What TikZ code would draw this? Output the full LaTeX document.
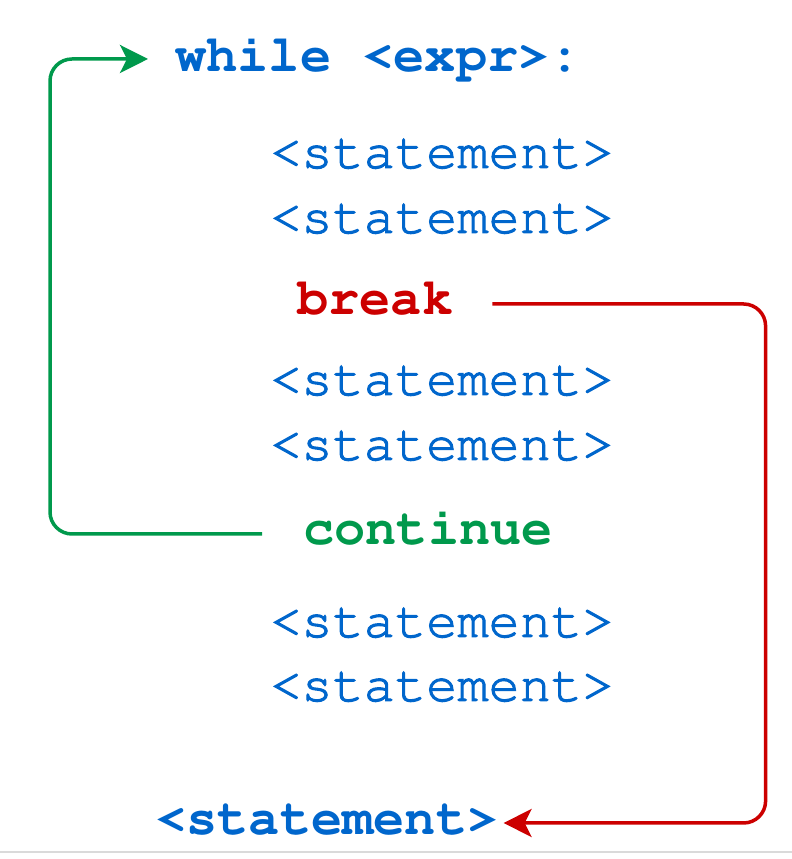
\documentclass[tikz,border=0pt]{standalone}
\usepackage[T1]{fontenc}
\renewcommand{\ttdefault}{pcr}
\usepackage{tikz}
\usetikzlibrary{arrows.meta}
\definecolor{CodeBlue}{RGB}{0,102,204}
\definecolor{BreakRed}{RGB}{204,0,0}
\definecolor{ContGreen}{RGB}{0,153,76}
\definecolor{Edge}{RGB}{218,218,218}
% slightly heavier strokes for the thin Courier
\newcommand{\thicktext}[1]{\special{pdf:literal direct 2 Tr 1 w}#1\special{pdf:literal direct 0 Tr}}
\tikzset{
  code/.style={anchor=base west,inner sep=0pt,text=CodeBlue,font=\fontsize{52}{60}\selectfont\ttfamily},
  keyword/.style={code,font=\fontsize{52}{60}\selectfont\ttfamily\bfseries},
  breakflow/.style={-{Stealth[length=28pt,width=28pt,inset=7pt]},line width=3.5pt,draw=BreakRed,rounded corners=22pt},
  contflow/.style={-{Stealth[length=28pt,width=28pt,inset=7pt]},line width=3.5pt,draw=ContGreen,rounded corners=22pt}
}
\begin{document}
\begin{tikzpicture}[x=1pt,y=1pt]
\useasboundingbox (0,0) rectangle (792,859);
\draw[Edge,line width=2pt] (0,7) -- (792,7);
\node[keyword] (loop) at (175,787) {while <expr>:};
\node[code] (st1) at (270,691) {\thicktext{<statement>}};
\node[code] (st2) at (270,626) {\thicktext{<statement>}};
\node[keyword,text=BreakRed] (brk) at (297,544) {break};
\node[code] (st3) at (270,464) {\thicktext{<statement>}};
\node[code] (st4) at (270,399) {\thicktext{<statement>}};
\node[keyword,text=ContGreen] (cont) at (303,314) {continue};
\node[code] (st5) at (270,222) {\thicktext{<statement>}};
\node[code] (st6) at (270,158) {\thicktext{<statement>}};
\node[keyword] (after) at (155,24) {<statement>};
\draw[contflow] ([shift={(-41pt,11pt)}]cont.base west) -| ([shift={(-125pt,13pt)}]loop.base west) -- ([shift={(-27pt,13pt)}]loop.base west);
\draw[breakflow] ([shift={(39pt,11pt)}]brk.base east) -| ([shift={(267pt,12pt)}]after.base east) -- ([shift={(5pt,12pt)}]after.base east);
\end{tikzpicture}
\end{document}
